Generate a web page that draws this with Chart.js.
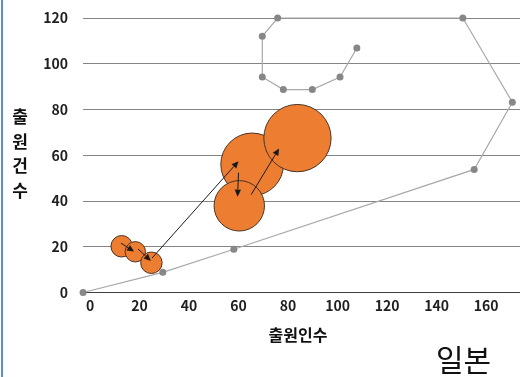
<!DOCTYPE html>
<html lang="ko">
<head>
<meta charset="utf-8">
<title>일본 출원인수·출원건수</title>
<script src="https://cdn.jsdelivr.net/npm/chart.js@4/dist/chart.umd.min.js"></script>
<style>
  html, body { margin: 0; padding: 0; background: #fff; }
  #wrap { position: relative; width: 520px; height: 377px; overflow: hidden; }
  #edge { position: absolute; left: 1px; top: 0; width: 2px; height: 377px; background: #5b8fd0; }
  .ytitle {
    position: absolute; left: 8px; top: 104px; width: 24px;
    font: bold 17px "Noto Sans CJK KR", sans-serif; color: #111;
    line-height: 24.5px; text-align: center;
  }
  .xtitle {
    position: absolute; left: 258px; top: 322px; width: 80px; text-align: center;
    font: bold 16px "Noto Sans CJK KR", sans-serif; color: #111; line-height: 24px;
  }
  .country {
    position: absolute; left: 436px; top: 338px;
    font: 30px "Noto Sans CJK KR", sans-serif; color: #111; line-height: 40px;
  }
</style>
</head>
<body>
<div id="wrap">
  <canvas id="c" width="520" height="377"></canvas>
  <div id="edge"></div>
  <div class="ytitle">출<br>원<br>건<br>수</div>
  <div class="xtitle">출원인수</div>
  <div class="country">일본</div>
</div>
<script>
// Bubbles: applicants (x), applications (y), bubble size, in time order
const bubbleX    = [12.8, 18.3, 24.8, 65.5, 60.3, 83.8];
const bubbleY    = [20.2, 17.8, 13.0, 56.0, 37.9, 67.5];
const bubbleSize = [10, 9, 10, 85, 55, 98];

// Comparison trajectory (grey line with markers)
const trailX = [-2.8, 29.4, 58.1, 155.2, 170.6, 150.6, 75.8, 69.6, 69.6, 78.1, 89.8, 101.0, 107.8];
const trailY = [0, 8.8, 18.9, 53.8, 83.2, 120, 120, 112, 94.2, 88.7, 88.7, 94.2, 106.9];

// Arrows showing the movement between bubbles
const arrowFromX = [12.5, 19.4, 25.1, 60.0, 65.1];
const arrowFromY = [21.6, 19.0, 15.1, 52.4, 42.8];
const arrowToX   = [17.8, 24.6, 60.0, 59.6, 76.4];
const arrowToY   = [17.9, 13.8, 57.4, 41.9, 63.0];

// Axis ticks
const xTicks = [0, 20, 40, 60, 80, 100, 120, 140, 160];
const yTicks = [0, 20, 40, 60, 80, 100, 120];

const bubbleData = bubbleX.map((x, i) => ({ x, y: bubbleY[i], r: Math.sqrt(bubbleSize[i]) * 3.4 }));
const trailData = trailX.map((x, i) => ({ x, y: trailY[i] }));

const arrowPlugin = {
  id: 'arrows',
  afterDatasetsDraw(chart) {
    const { ctx, scales: { x, y } } = chart;
    ctx.save();
    ctx.strokeStyle = '#1a1a1a';
    ctx.fillStyle = '#1a1a1a';
    ctx.lineWidth = 1;
    for (let i = 0; i < arrowFromX.length; i++) {
      const x1 = x.getPixelForValue(arrowFromX[i]);
      const y1 = y.getPixelForValue(arrowFromY[i]);
      const x2 = x.getPixelForValue(arrowToX[i]);
      const y2 = y.getPixelForValue(arrowToY[i]);
      const a = Math.atan2(y2 - y1, x2 - x1);
      const head = 7, half = 3.2;
      const bx = x2 - head * Math.cos(a), by = y2 - head * Math.sin(a);
      ctx.beginPath();
      ctx.moveTo(x1, y1);
      ctx.lineTo(bx, by);
      ctx.stroke();
      ctx.beginPath();
      ctx.moveTo(x2, y2);
      ctx.lineTo(bx + half * Math.sin(a), by - half * Math.cos(a));
      ctx.lineTo(bx - half * Math.sin(a), by + half * Math.cos(a));
      ctx.closePath();
      ctx.fill();
    }
    ctx.restore();
  }
};

// Keep the plot area fixed: no extra room reserved for edge tick labels
function noEdgePadding(s) {
  s.paddingLeft = 0; s.paddingRight = 0; s.paddingTop = 0; s.paddingBottom = 0;
}

const tickFont = { family: '"Noto Sans CJK KR", sans-serif', size: 14, weight: 'bold' };

new Chart(document.getElementById('c'), {
  type: 'bubble',
  data: {
    datasets: [
      {
        label: '출원',
        data: bubbleData,
        backgroundColor: '#ED7D31',
        borderColor: '#4a3322',
        borderWidth: 1,
        hoverRadius: 0
      },
      {
        type: 'line',
        label: '비교',
        data: trailData,
        borderColor: '#a8a8a8',
        borderWidth: 1.2,
        pointRadius: 3.5,
        pointBackgroundColor: '#878787',
        pointBorderColor: '#878787',
        pointBorderWidth: 0,
        tension: 0,
        fill: false,
        clip: false
      }
    ]
  },
  options: {
    responsive: false,
    animation: false,
    devicePixelRatio: 1,
    events: [],
    layout: { autoPadding: false, padding: { top: 18, right: 0, bottom: 0, left: 0 } },
    plugins: { legend: { display: false }, tooltip: { enabled: false } },
    scales: {
      x: {
        type: 'linear',
        min: -2.83,
        max: 173.7,
        afterBuildTicks(s) { s.ticks = xTicks.map(v => ({ value: v })); },
        afterFit(s) { s.height = 84.5; noEdgePadding(s); },
        grid: { display: false, drawTicks: false },
        border: { display: true, color: '#404040', width: 1 },
        ticks: { font: tickFont, color: '#1f1f1f', padding: 5, maxRotation: 0 }
      },
      y: {
        type: 'linear',
        min: 0,
        max: 120,
        afterBuildTicks(s) { s.ticks = yTicks.map(v => ({ value: v })); },
        afterFit(s) { s.width = 83; noEdgePadding(s); },
        grid: { color: '#858585', lineWidth: 1, drawTicks: false },
        border: { display: false },
        ticks: { font: tickFont, color: '#1f1f1f', padding: 15 }
      }
    }
  },
  plugins: [arrowPlugin]
});
</script>
</body>
</html>
